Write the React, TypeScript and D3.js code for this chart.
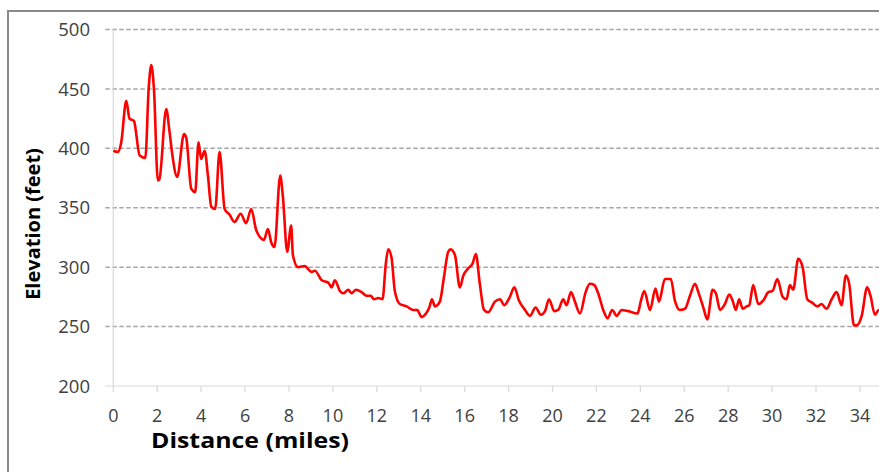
import React, { useEffect, useRef } from "react";
import * as d3 from "d3";

// Elevation profile (miles, feet)
const distanceMiles = [
  0, 0.2, 0.36, 0.59, 0.74, 0.94, 1.2, 1.46, 1.61, 1.73, 1.85, 2.03, 2.1, 2.41, 2.56, 2.67, 2.91,
  3.22, 3.32, 3.55, 3.73, 3.88, 4.0, 4.16, 4.31, 4.46, 4.64, 4.84, 5.07, 5.3, 5.52, 5.8, 6.05,
  6.28, 6.51, 6.86, 7.04, 7.19, 7.34, 7.6, 7.72, 7.92, 8.1, 8.18, 8.41, 8.71, 9.03, 9.18, 9.49,
  9.79, 9.94, 10.09, 10.32, 10.47, 10.7, 10.85, 11.05, 11.31, 11.53, 11.72, 11.87, 12.07, 12.26,
  12.41, 12.52, 12.67, 12.82, 13.05, 13.36, 13.66, 13.84, 14.04, 14.24, 14.39, 14.51, 14.65,
  14.87, 15.06, 15.25, 15.36, 15.56, 15.78, 15.94, 16.16, 16.36, 16.51, 16.69, 16.88, 17.07,
  17.38, 17.61, 17.8, 18.06, 18.26, 18.47, 18.75, 18.97, 19.23, 19.47, 19.66, 19.84, 20.08,
  20.26, 20.49, 20.64, 20.84, 21.02, 21.25, 21.51, 21.7, 21.9, 22.08, 22.31, 22.51, 22.72,
  22.92, 23.15, 23.45, 23.87, 24.03, 24.18, 24.44, 24.69, 24.85, 25.12, 25.39, 25.57, 25.8,
  26.03, 26.26, 26.49, 26.64, 26.87, 27.05, 27.29, 27.44, 27.63, 27.85, 28.05, 28.2, 28.35,
  28.5, 28.66, 28.84, 28.96, 29.14, 29.37, 29.6, 29.83, 30.02, 30.24, 30.48, 30.66, 30.81,
  30.96, 31.19, 31.39, 31.6, 31.84, 32.06, 32.25, 32.48, 32.71, 32.94, 33.16, 33.36, 33.51,
  33.73, 33.85, 34.08, 34.33, 34.48, 34.68, 34.86, 35.0,
];

const elevationFeet = [
  398, 397, 405, 440, 425, 423, 394, 392, 450, 470, 450, 373, 374, 433, 414, 397, 376,
  412, 409, 366, 363, 405, 391, 398, 377, 351, 349, 397, 349, 344, 338, 345, 337,
  349, 331, 323, 332, 321, 317, 377, 360, 313, 335, 310, 300, 301, 296, 297, 289,
  287, 283, 289, 280, 278, 281, 278, 281, 279, 276, 276, 273, 274, 273,
  303, 315, 308, 280, 269, 267, 264, 264, 258, 261, 266, 273, 267,
  271, 292, 313, 315, 310, 283, 293, 299, 303, 311, 286, 264, 262,
  271, 273, 268, 275, 283, 272, 264, 259, 266, 260, 263, 273, 263,
  264, 273, 268, 279, 271, 261, 279, 286, 285, 278, 264, 257, 264,
  259, 264, 263, 261, 272, 280, 264, 282, 271, 290, 290, 272, 264,
  265, 276, 286, 279, 266, 256, 281, 278, 264, 269, 277, 272, 264,
  273, 265, 267, 268, 285, 269, 272, 279, 280, 290, 275, 273, 285,
  281, 307, 300, 273, 270, 267, 269, 265, 273, 279, 268, 293, 286,
  251, 251, 259, 283, 276, 260, 264, 264,
];

const yTicks = [200, 250, 300, 350, 400, 450, 500];
const xTicks = [0, 2, 4, 6, 8, 10, 12, 14, 16, 18, 20, 22, 24, 26, 28, 30, 32, 34];

const W = 879;
const H = 472;
const FONT = "'Open Sans', 'DejaVu Sans', sans-serif";

export default function App() {
  const ref = useRef<SVGSVGElement>(null);

  useEffect(() => {
    if (!ref.current) return;
    const svg = d3.select(ref.current);
    svg.selectAll("*").remove();

    const left = 113.3;
    const top = 29.5;
    const bottom = 386;

    const x = d3.scaleLinear().domain([0, 35]).range([left, left + 35 * 21.96]);
    const y = d3.scaleLinear().domain([200, 500]).range([bottom, top]);

    // outer frame
    svg
      .append("rect")
      .attr("x", 8)
      .attr("y", 11)
      .attr("width", W)
      .attr("height", H)
      .attr("fill", "#fff")
      .attr("stroke", "#8a8a8a")
      .attr("stroke-width", 2);

    // dashed gridlines
    svg
      .append("g")
      .selectAll("line")
      .data(yTicks.filter((t) => t > 200))
      .enter()
      .append("line")
      .attr("x1", left - 8)
      .attr("x2", W)
      .attr("y1", (d) => y(d))
      .attr("y2", (d) => y(d))
      .attr("stroke", "#a6a6a6")
      .attr("stroke-width", 1.5)
      .attr("stroke-dasharray", "4.5 2.5");

    // axes lines
    svg
      .append("line")
      .attr("x1", left)
      .attr("x2", left)
      .attr("y1", top)
      .attr("y2", bottom)
      .attr("stroke", "#d9d9d9")
      .attr("stroke-width", 1.2);
    svg
      .append("line")
      .attr("x1", left - 8)
      .attr("x2", W)
      .attr("y1", bottom)
      .attr("y2", bottom)
      .attr("stroke", "#d9d9d9")
      .attr("stroke-width", 1.2);

    // x ticks
    svg
      .append("g")
      .selectAll("line")
      .data(xTicks)
      .enter()
      .append("line")
      .attr("x1", (d) => x(d))
      .attr("x2", (d) => x(d))
      .attr("y1", bottom)
      .attr("y2", bottom + 6)
      .attr("stroke", "#d9d9d9")
      .attr("stroke-width", 1.2);

    // y tick labels
    svg
      .append("g")
      .selectAll("text")
      .data(yTicks)
      .enter()
      .append("text")
      .attr("x", 90)
      .attr("y", (d) => y(d))
      .attr("dy", "0.36em")
      .attr("text-anchor", "end")
      .attr("font-family", FONT)
      .attr("font-size", 18.5)
      .attr("fill", "#404040")
      .text((d) => d);

    // x tick labels
    svg
      .append("g")
      .selectAll("text")
      .data(xTicks)
      .enter()
      .append("text")
      .attr("x", (d) => x(d))
      .attr("y", 422)
      .attr("text-anchor", "middle")
      .attr("font-family", FONT)
      .attr("font-size", 18)
      .attr("fill", "#404040")
      .text((d) => d);

    // axis titles
    svg
      .append("text")
      .attr("x", 250)
      .attr("y", 448)
      .attr("text-anchor", "middle")
      .attr("font-family", FONT)
      .attr("font-weight", "bold")
      .attr("font-size", 20.5)
      .attr("textLength", 198)
      .attr("lengthAdjust", "spacingAndGlyphs")
      .attr("fill", "#000")
      .text("Distance (miles)");

    svg
      .append("text")
      .attr("transform", "translate(40,224) rotate(-90)")
      .attr("text-anchor", "middle")
      .attr("font-family", FONT)
      .attr("font-weight", "bold")
      .attr("font-size", 20)
      .attr("fill", "#000")
      .text("Elevation (feet)");

    // profile line
    const pts = distanceMiles.map((d, i) => [d, elevationFeet[i]] as [number, number]);
    const line = d3
      .line<[number, number]>()
      .x((d) => x(d[0]))
      .y((d) => y(d[1]))
      .curve(d3.curveMonotoneX);

    svg
      .append("path")
      .datum(pts)
      .attr("fill", "none")
      .attr("stroke", "#ff0000")
      .attr("stroke-width", 2.6)
      .attr("stroke-linejoin", "round")
      .attr("d", line);
  }, []);

  return (
    <div style={{ position: "absolute", left: 0, top: 0 }}>
      <svg ref={ref} width={W} height={H} style={{ display: "block" }} />
    </div>
  );
}
